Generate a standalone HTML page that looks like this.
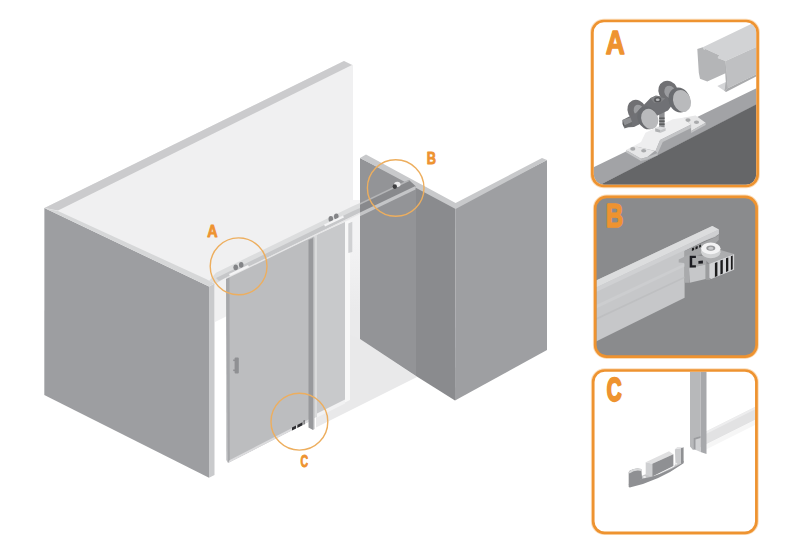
<!DOCTYPE html>
<html><head><meta charset="utf-8"><title>Sliding door system</title>
<style>
html,body{margin:0;padding:0;background:#fff;}
body{width:800px;height:549px;overflow:hidden;font-family:"Liberation Sans",sans-serif;}
svg{display:block}
.lbl{font-family:"Liberation Sans",sans-serif;font-weight:bold;fill:#ee9330;stroke:#ee9330;stroke-linejoin:round;}
</style></head><body>
<svg width="800" height="549" viewBox="0 0 800 549">
<defs>
<clipPath id="cA"><rect x="593.7" y="22.3" width="162.6" height="162.4" rx="10.2"/></clipPath>
<clipPath id="cB"><rect x="596.5" y="198.15" width="158.8" height="157.15" rx="10.2"/></clipPath>
<clipPath id="cC"><rect x="594.5" y="371.8" width="160.6" height="159.7" rx="10.2"/></clipPath>
<filter id="soft" x="-5%" y="-5%" width="110%" height="110%"><feGaussianBlur stdDeviation="0.45"/></filter>
<linearGradient id="gapg" x1="0" y1="0" x2="0" y2="1"><stop offset="0.3" stop-color="#f3f3f4"/><stop offset="0.8" stop-color="#eaeaeb"/></linearGradient>
</defs>
<!-- MAIN -->
<g id="main" filter="url(#soft)">
<!-- back wall -->
<polygon points="44.4,208 344,61 353,65 353,333 215,333 215,285" fill="#f0f0f1"/>
<polygon points="44.4,208 344,61 352,65 58,210.5" fill="#cbcbcd"/>
<rect x="350" y="200" width="10" height="140" fill="url(#gapg)"/>
<!-- white floor in gap -->
<polygon points="215,322 226,316.5 226,470 215,476" fill="#fff"/>
<!-- floor shadow -->
<polygon points="345,333 360,339 417,377 316,427.5 316,417 345,402.5" fill="#e9e9ea"/>
<!-- left wall -->
<polygon points="44.4,208 209,286.5 209,477.8 44.3,395" fill="#9d9ea1"/>
<polygon points="209,286.5 214.5,283.5 214.5,475 209,477.8" fill="#c9cacc"/>
<polygon points="44.4,208 58,211 206,279 214.5,283.5 209,286.5" fill="#d6d7d8"/>
<!-- door sliding panel -->
<polygon points="226,277.5 314,236 314,419 228,463 226.3,460" fill="#bcbdbf"/>
<polygon points="226,277.5 229.5,276 229.8,460 228,463" fill="#a6a7aa"/>
<polygon points="228,463 229.8,460 314,416.7 314,419" fill="#dcdcde"/>
<!-- fixed panel -->
<polygon points="314,236 345,222 345,402.5 314,418" fill="#c8c9cb"/>
<polygon points="314,236 317,235 317,416.5 314,418" fill="#d9dadb"/>
<polygon points="317,413.5 345,399.5 345,403.5 317,417.5" fill="#f2f2f3"/>
<!-- post -->
<polygon points="308.5,240 313,238 313,430 308.5,427.5" fill="#98999c"/>
<polygon points="313,238 314.5,237.3 314.5,429 313,430" fill="#b9babc"/>
<!-- right jamb strip -->
<polygon points="345,222 350,220 350,400 345,402.5" fill="#f8f8f8"/>
<polygon points="348.3,223.5 352.3,221.8 352.3,252 348.3,253" fill="#d0d1d3"/>
<!-- handle -->
<rect x="234.6" y="357.4" width="4.2" height="16.2" rx="1" fill="#8f9093"/><rect x="233.2" y="359.5" width="2" height="1.6" fill="#8f9093"/><rect x="233.2" y="369.5" width="2" height="1.6" fill="#8f9093"/>
<!-- right block -->
<polygon points="360,158 416,186.5 416,376 360,339" fill="#939497"/>
<polygon points="416,186.5 455.6,207 455,400.5 416,376" fill="#8a8b8e"/>
<polygon points="455.6,207 547,160 547,350 455,400.5" fill="#9e9fa2"/>
<polygon points="360,158 366,154.4 455.6,203 542,158 547,160 455.6,209" fill="#c8c9cb"/>
<!-- groove in block -->
<polygon points="360,203.5 409,180 416,186.5 360,213.5" fill="#88898c"/>
<polygon points="360,203 408,180 409.5,181 360,204.8" fill="#b4b5b7"/>
<polygon points="360,212.6 415.5,186 415.5,189.4 360,216.2" fill="#c4c5c7"/>
<!-- rail -->
<polygon points="209,281 216,272.8 353,206 360,203 360,212.5 226,277.5 216,283.5" fill="#dcddde"/>
<polygon points="216,278 353,211 360,208 360,212.8 226,277.6 219,281" fill="#c6c7c9"/>
<polygon points="226,277.6 360,212.6 360,214 226,279" fill="#e6e6e7"/>
<!-- rollers A -->
<g fill="#838487">
<ellipse cx="235.7" cy="267.3" rx="2.3" ry="2.9"/><ellipse cx="241.2" cy="264.8" rx="2.3" ry="2.9"/>
<ellipse cx="330.8" cy="218.9" rx="2.3" ry="2.9"/><ellipse cx="336.3" cy="216.4" rx="2.3" ry="2.9"/>
</g>
<g fill="#f4f4f5">
<polygon points="229,274 248,265 249,267 230,276"/>
<polygon points="324,224.5 343,215.5 344,217.5 325,226.5"/>
</g>
<!-- stopper B -->
<ellipse cx="397.3" cy="184.3" rx="3.2" ry="2.6" fill="#ececed"/>
<ellipse cx="394.8" cy="186.6" rx="2.2" ry="2.4" fill="#3c3d3f"/>
<!-- guide C -->
<polygon points="292,427.6 296,425.600 296,428.600 292,430.600" fill="#2e2f31"/>
<polygon points="297.2,425 302.5,422.3 302.5,425.300 297.2,428" fill="#2e2f31"/>
<polygon points="303.6,420.5 304.6,420 304.6,424.2 303.6,424.7" fill="#4a4b4d"/>
<polygon points="296,425.6 297.2,425 297.2,428 296,428.6" fill="#dcdcdd"/>
</g>
<!-- circles -->
<g fill="none" stroke="#edae5e" stroke-width="1.4">
<circle cx="238.6" cy="266.3" r="28.4"/>
<circle cx="395.7" cy="188" r="28.3"/>
<circle cx="299.4" cy="421.7" r="28.4"/>
</g>
<text class="lbl" vector-effect="non-scaling-stroke" stroke-width="0.8" font-size="17" transform="translate(207.24,236.90) scale(0.843,1.001)">A</text>
<text class="lbl" vector-effect="non-scaling-stroke" stroke-width="0.8" font-size="17" transform="translate(426.64,164.30) scale(0.752,0.967)">B</text>
<text class="lbl" vector-effect="non-scaling-stroke" stroke-width="0.8" font-size="17" transform="translate(300.58,467.04) scale(0.620,0.956)">C</text>

<!-- PANEL A -->
<g id="panelA">
<rect x="592.4" y="21" width="165.2" height="165" rx="11.5" fill="#fff" stroke="#fbdcb8" stroke-width="4.6"/>
<rect x="592.4" y="21" width="165.2" height="165" rx="11.5" fill="#fff"/>
<g clip-path="url(#cA)" filter="url(#soft)">
 <!-- door -->
 <polygon points="590,169 760,86.5 760,103 597,186.5 590,190" fill="#a2a3a6"/>
 <polygon points="590,190 760,102.5 760,190 590,190" fill="#656668"/>
 <!-- rail top face -->
 <polygon points="702.8,47.3 760,19.8 760,45.3 725.5,61 717.7,57.9 719.2,55.2 705.5,49.1 704,49.7" fill="#d2d3d5"/>
 <!-- rail side face -->
 <polygon points="725.5,61 760,45.3 760,72.5 727.7,88.3" fill="#bfc0c2"/>
 <!-- rail bottom lip -->
 <polygon points="717.3,85.9 725.9,81.9 727.7,88.3 724.6,91" fill="#d4d5d7"/>
 <polygon points="724.6,91 727.7,88.3 760,72.5 760,74.5 726,92" fill="#a9aaac"/>
 <!-- rail end profile -->
 <polygon points="697.3,49.1 702.8,47.3 704,49.7 705.5,49.1 719.2,55.2 717.7,57.9 725.5,61 727.7,88.3 724.6,91 725.9,81.9 725.5,73.2 707.3,81.4 700,78.7 698.8,72.8" fill="#b4b5b7"/>
 <polygon points="725.5,61 727.7,88.3 724.6,91 725.9,81.9 725.5,73.2" fill="#aeafb1"/>
 <!-- bracket -->
 <polygon points="626,150.1 633.7,146.1 654.6,151.1 647.3,157.1 641,158.7" fill="#e6e6e7"/>
 <polygon points="626,150.1 641,158.7 641,161 626,152.3" fill="#c6c7c9"/>
 <polygon points="641,158.700 647.3,157.1 657.7,152.9 657.7,155.2 647.3,159.5 641,161" fill="#bdbec0"/>
 <polygon points="633.7,146.1 641,142 645.5,132.800 672.8,119.2 682.9,117.7 691.1,124.600 660.1,140.1 655.5,151.1" fill="#eeeeef"/>
 <polygon points="655.5,151.1 660.1,140.1 691.1,124.600 691.1,127.9 662.8,142 657.7,153.2" fill="#c3c4c6"/>
 <polygon points="682.9,117.700 695.600,115.500 705.600,122.800 691.1,131 691.1,124.600" fill="#e6e6e7"/>
 <polygon points="691.1,131 705.600,122.800 705.600,124.900 691.1,133.1" fill="#c3c4c6"/>
 <ellipse cx="632.8" cy="148.9" rx="2.600" ry="1.800" fill="#a9aaac"/><ellipse cx="643.700" cy="150.700" rx="2.600" ry="1.800" fill="#a9aaac"/>
 <ellipse cx="688" cy="120.1" rx="2.600" ry="1.800" fill="#a9aaac"/><ellipse cx="696.500" cy="122.300" rx="2.600" ry="1.800" fill="#a9aaac"/>
 <!-- nut & bolt -->
 <rect x="659.2" y="110" width="5.4" height="17.5" fill="#8d8e91"/>
 <rect x="659.2" y="117.500" width="5.400" height="1.400" fill="#58595b"/><rect x="659.2" y="120.500" width="5.400" height="1.400" fill="#58595b"/><rect x="659.2" y="123.500" width="5.400" height="1.400" fill="#58595b"/>
 <!-- roller body -->
 <ellipse cx="637" cy="110.500" rx="9.3" ry="11" fill="#6f7073" transform="rotate(-25 637 110.5)"/>
 <ellipse cx="668" cy="91" rx="9.5" ry="10.5" fill="#6f7073" transform="rotate(-25 668 91)"/>
 <ellipse cx="639" cy="111" rx="5" ry="6.5" fill="#9b9c9f" transform="rotate(-25 639 111)"/>
 <ellipse cx="670" cy="92" rx="5.5" ry="6.5" fill="#9b9c9f" transform="rotate(-25 670 92)"/>
 <polygon points="622.500,120 636,113 650.5,98.1 655.9,95.6 665.4,97.3 676,100 668,110.500 640,124 634,127 624.500,127.500" fill="#707174"/>
 <polygon points="650.5,98.3 655.9,96 665.2,98.5 660.6,102.2 654.1,102.7" fill="#828386"/>
 <polygon points="622.500,120 630.500,117.500 632,122 624.500,125.500" fill="#8f9093"/>
 <polygon points="622.500,120 624.500,125.500 624.500,128.500 622.500,124" fill="#58595b"/>
 <polygon points="624.500,125.500 632,122 632,125.500 624.500,128.500" fill="#6b6c6e"/>
 <ellipse cx="657.7" cy="99.7" rx="3.6" ry="2.6" fill="#58595b"/>
 <ellipse cx="657.7" cy="99.7" rx="1.9" ry="1.3" fill="#b9babc"/>
 <!-- front wheels -->
 <ellipse cx="647.3" cy="117.8" rx="9.800" ry="11.800" fill="#6b6c6f" transform="rotate(-22 647.3 117.8)"/>
 <ellipse cx="649.7" cy="118.9" rx="8.300" ry="10.400" fill="#b9babc" transform="rotate(-22 649.7 118.9)"/>
 <ellipse cx="679.3" cy="100" rx="10.700" ry="12.800" fill="#6b6c6f" transform="rotate(-22 679.3 100)"/>
 <ellipse cx="682" cy="101" rx="8.700" ry="11.200" fill="#b9babc" transform="rotate(-22 682 101)"/>
 <polygon points="655.2,128.3 660.1,126.500 665.600,127.900 660.600,130.1" fill="#dcdddf"/>
 <polygon points="655.2,128.3 660.600,130.1 660.600,132.800 655.2,131.400" fill="#b0b1b3"/>
 <polygon points="660.600,130.1 665.600,127.900 665.600,130.700 660.600,132.800" fill="#c4c5c7"/>
</g>
<rect x="592.4" y="21" width="165.2" height="165" rx="11.5" fill="none" stroke="#ee9330" stroke-width="2.700"/>
<text class="lbl" vector-effect="non-scaling-stroke" stroke-width="1.3" font-size="32" transform="translate(605.79,53.55) scale(0.826,1.009)">A</text>
</g>

<!-- PANEL B -->
<g id="panelB">
<rect x="595.2" y="196.85" width="161.4" height="159.75" rx="11.5" fill="#fff" stroke="#fbdcb8" stroke-width="4.600"/>
<rect x="595.2" y="196.85" width="161.4" height="159.75" rx="11.5" fill="#8a8b8d"/>
<g clip-path="url(#cB)" filter="url(#soft)">
 <!-- rail body -->
 <polygon points="594,281.5 712.3,226 718.8,229.6 718.8,234 715,237 704,241 684.6,251 684.6,297.8 594,342.5" fill="#c6c7c9"/>
 <polygon points="594,281.5 712.3,226 718.8,229.6 594,288.5" fill="#dcddde"/>
 <polygon points="594,288.5 718.8,229.6 718.8,234 594,293" fill="#cfd0d2"/>
 <polygon points="594,306 684.6,263.5 684.6,266.5 594,309.5" fill="#cccdcf"/>
 <polygon points="594,319 684.6,276.5 684.6,278.2 594,321" fill="#bebfc1"/>
 <!-- track interior -->
 <polygon points="684.6,251.0 715.9,236.9 718.8,234.7 718.8,239.8 706.4,252.9 684.6,258.7" fill="#a3a4a6"/>
 <!-- stopper left bracket -->
 <polygon points="678.7,259.5 689.0,254.4 706.4,256.5 706.4,264.6 689.0,268.2 689.0,282.8 684.6,282.8 684.6,263.1 678.7,262.4" fill="#a9aaac"/>
 <polygon points="689.0,268.2 705.7,264.6 705.7,279.1 689.7,282.8" fill="#c6c7c9"/>
 <polygon points="689.7,255.8 695.9,255.8 695.9,258.1 692.2,258.1 692.2,265.3 695.9,265.3 695.9,267.5 689.7,267.5" fill="#1d1e20"/>
 <polygon points="698.4,260.9 702.9,260.5 702.9,263.4 698.4,263.8" fill="#1d1e20"/>
 <polygon points="705.7,263.8 710.1,263.8 710.1,279.9 705.7,279.9" fill="#9c9d9f"/>
 <!-- comb -->
 <polygon points="709.4,263.8 702.8,257.3 720.3,250.0 734.1,254.1" fill="#acadaf"/>
 <polygon points="709.4,263.8 734.1,254.1 734.1,269.7 711.1,279.1 709.4,277.7" fill="#d4d5d7"/>
 <g fill="#1a1b1d">
 <polygon points="714.9,263.1 717.4,262.1 717.4,275.9 714.9,277.0"/>
 <polygon points="720.4,260.6 722.8,259.8 722.8,273.6 720.4,274.6"/>
 <polygon points="726.0,258.3 728.3,257.4 728.3,271.1 726.0,272.1"/>
 <polygon points="730.9,256.3 732.7,255.5 732.7,269.2 730.9,270.0"/>
 <polygon points="691.9,248.2 694.1,247.4 694.1,250.0 691.9,250.9"/>
 <polygon points="695.5,246.8 697.7,245.9 697.7,248.5 695.5,249.4"/>
 <polygon points="699.2,245.3 700.9,244.6 700.9,247.1 699.2,247.8"/>
 </g>
 <!-- roller -->
 <ellipse cx="710.8" cy="252.3" rx="9.6" ry="5.9" fill="#d2d3d4"/>
 <rect x="701.2" y="248.3" width="19.2" height="4" fill="#d2d3d4"/>
 <ellipse cx="710.8" cy="248.3" rx="9.6" ry="5.9" fill="#f3f3f4"/>
 <ellipse cx="710.8" cy="248.1" rx="4.5" ry="2.7" fill="#97989a"/>
 <ellipse cx="710.8" cy="248.3" rx="2.7" ry="1.5" fill="#c9cacc"/>
</g>
<rect x="595.2" y="196.85" width="161.4" height="159.75" rx="11.5" fill="none" stroke="#ee9330" stroke-width="2.700"/>
<text class="lbl" vector-effect="non-scaling-stroke" stroke-width="1.5" font-size="32" transform="translate(605.95,227.05) scale(0.743,1.009)">B</text>
</g>

<!-- PANEL C -->
<g id="panelC">
<rect x="593.2" y="370.5" width="163.2" height="162.3" rx="11.5" fill="#fff" stroke="#fbdcb8" stroke-width="4.600"/>
<rect x="593.2" y="370.5" width="163.2" height="162.3" rx="11.5" fill="#fff"/>
<g clip-path="url(#cC)" filter="url(#soft)">
 <!-- glass bottom rail -->
 <polygon points="706,431.500 757,406 757,419 706,444.500" fill="#e2e2e3"/>
 <polygon points="706,431.500 757,406 757,408.500 706,434" fill="#ededee"/>
 <polygon points="706,444.500 757,419 757,424 706,449.500" fill="#f6f6f6"/>
 <!-- post -->
 <polygon points="690,370 700.500,370 700.500,447 693,450 690,446.500" fill="#b7b8ba"/>
 <polygon points="700.500,370 706.500,370 706.500,454 700.500,452" fill="#a7a8ab"/>
 <polygon points="693.500,438 700.500,436 700.500,452 697,450.500 693.500,449" fill="#cfd0d2"/>
 <polygon points="693.500,438 700.500,436 700.500,438 695.500,439.500 695.500,449.800 693.500,449" fill="#9b9c9f"/>
 <!-- floor guide -->
 <polygon points="641.3,476.1 645.7,474.2 653.7,476.6 674.1,466.4 675.6,463.1 681.4,462.3 681.0,464.0 653.7,478.6 642.1,478.9" fill="#c6c7c9"/>
 <path d="M628.7,484.1 L629.7,487.5 Q658.1,481.5 683.6,463.3 L683.6,460.5 L680.8,463.7 Q659.6,476.1 642.1,478.7 Z" fill="#8f9093"/>
 <path d="M628.7,471.9 Q634.1,467.4 641.3,469.0 L642.1,478.7 L629.7,487.5 L628.7,486.3 Z" fill="#8f9093"/>
 <path d="M628.7,471.9 Q634.1,467.4 641.3,469.0 L641.3,471.0 Q634.8,469.6 629.5,473.4 Z" fill="#d9dadb"/>
 <polygon points="645.7,462.3 669.0,451.3 673.4,454.3 652.3,463.7" fill="#e0e0e1"/>
 <polygon points="645.7,462.3 652.3,463.7 652.3,476.6 645.7,474.7" fill="#cfd0d2"/>
 <polygon points="652.3,463.7 673.4,454.3 673.4,465.9 652.3,476.6" fill="#8f9093"/>
 <polygon points="674.9,449.2 681.0,448.0 681.0,463.4 675.5,464.5" fill="#cbccce"/>
 <polygon points="681.0,448.0 683.6,447.3 683.6,462.3 681.0,463.7" fill="#8f9093"/>
 <polygon points="674.9,449.2 677.3,447.1 683.6,447.3 681.0,448.3" fill="#e4e4e5"/>
 <ellipse cx="644.5" cy="477.1" rx="1.5" ry="1" fill="#ececed"/><ellipse cx="675.9" cy="463.7" rx="1.4" ry="0.9" fill="#ececed"/>
</g>
<rect x="593.2" y="370.5" width="163.2" height="162.3" rx="11.5" fill="none" stroke="#ee9330" stroke-width="2.700"/>
<text class="lbl" vector-effect="non-scaling-stroke" stroke-width="1.9" font-size="32" transform="translate(606.83,401.32) scale(0.644,1.016)">C</text>
</g>
</svg>
</body></html>
